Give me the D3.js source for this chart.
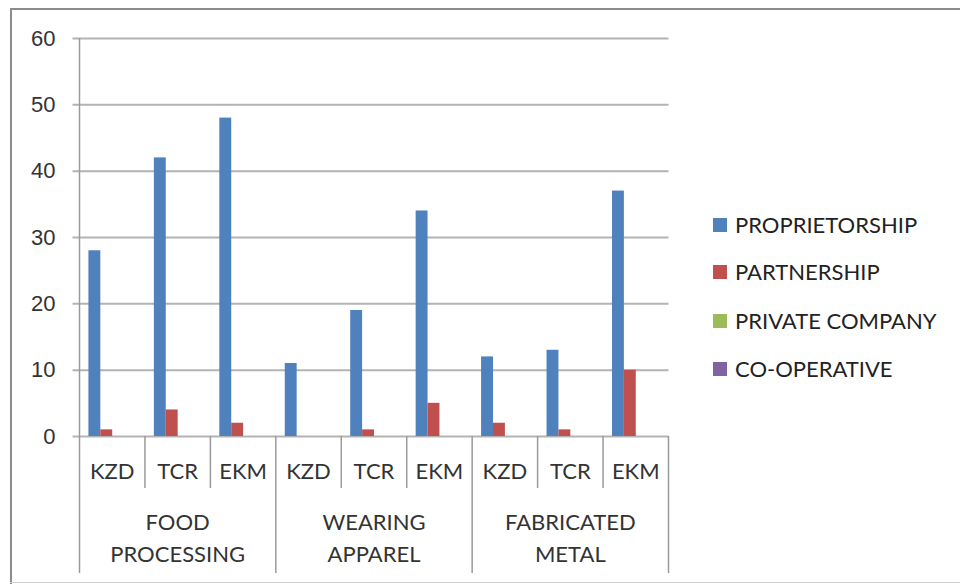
<!DOCTYPE html>
<html>
<head>
<meta charset="utf-8">
<script src="https://cdn.jsdelivr.net/npm/d3@7"></script>
<style>
  html, body { margin: 0; padding: 0; background: #fff; }
  svg { display: block; font-family: Lato, "Open Sans", sans-serif; }
</style>
</head>
<body>
<svg id="chart" width="960" height="584"></svg>
<script>
// Sectors, districts and ownership types
const groups = ["FOOD PROCESSING", "WEARING APPAREL", "FABRICATED METAL"];
const groupLines = [["FOOD", "PROCESSING"], ["WEARING", "APPAREL"], ["FABRICATED", "METAL"]];
const districts = ["KZD", "TCR", "EKM"];
const seriesNames = ["PROPRIETORSHIP", "PARTNERSHIP", "PRIVATE COMPANY", "CO-OPERATIVE"];
const seriesColors = ["#4f81bd", "#c0504d", "#9bbb59", "#8064a2"];

// Counts per sector/district (9 columns: KZD, TCR, EKM for each sector)
const proprietorship = [28, 42, 48, 11, 19, 34, 12, 13, 37];
const partnership    = [1, 4, 2, 0, 1, 5, 2, 1, 10];
const privateCompany = [0, 0, 0, 0, 0, 0, 0, 0, 0];
const cooperative    = [0, 0, 0, 0, 0, 0, 0, 0, 0];
const yTicks = [0, 10, 20, 30, 40, 50, 60];

const seriesValues = [proprietorship, partnership, privateCompany, cooperative];
const columns = [];
groups.forEach((g, gi) => districts.forEach((d, di) => columns.push({ key: gi + "-" + d, group: gi, district: d })));

const svg = d3.select("#chart");
const W = 960, H = 584;
const FONT = "22px";

// Outer frame
svg.append("line").attr("x1", 11).attr("x2", 11).attr("y1", 9).attr("y2", 584)
  .attr("stroke", "#8c8c8c").attr("stroke-width", 2);
svg.append("line").attr("x1", 10).attr("x2", W).attr("y1", 9).attr("y2", 9)
  .attr("stroke", "#8c8c8c").attr("stroke-width", 2);
svg.append("line").attr("x1", 10).attr("x2", W).attr("y1", 582.5).attr("y2", 582.5)
  .attr("stroke", "#d0d0d0").attr("stroke-width", 1);

const plot = { left: 79.5, right: 668.5, top: 38, bottom: 436 };

const x = d3.scaleBand().domain(columns.map(c => c.key)).range([plot.left, plot.right]).paddingInner(0).paddingOuter(0);
const y = d3.scaleLinear().domain([0, 60]).range([plot.bottom, plot.top]);

// Clustered bars: 4 series, gap equal to 1.5 bar widths
const bw = x.bandwidth() / (seriesNames.length + 1.5);
const xs = d3.scaleBand().domain(seriesNames).range([bw * 0.75, bw * 0.75 + bw * seriesNames.length]).padding(0);

// Gridlines and y axis
const yAxis = d3.axisLeft(y).tickValues(yTicks).tickSize(plot.right - plot.left + 7).tickFormat(d3.format("d"));
const gy = svg.append("g").attr("transform", `translate(${plot.right},0)`).call(yAxis);
gy.select(".domain").remove();
gy.selectAll(".tick line").attr("stroke", "#b3b3b3").attr("stroke-width", 2);
gy.selectAll(".tick text").attr("fill", "#333").style("font-size", FONT)
  .attr("x", -(plot.right - plot.left) - 24);

// Bars
seriesNames.forEach((s, si) => {
  svg.append("g").selectAll("rect").data(seriesValues[si]).join("rect")
    .attr("x", (v, i) => x(columns[i].key) + xs(s))
    .attr("width", xs.bandwidth())
    .attr("y", v => y(v))
    .attr("height", v => y(0) - y(v))
    .attr("fill", seriesColors[si]);
});

// Vertical axis line
svg.append("line").attr("x1", plot.left).attr("x2", plot.left).attr("y1", plot.top).attr("y2", 573)
  .attr("stroke", "#9a9a9a").attr("stroke-width", 1.5);

// Category separators (short for districts, long between sectors)
const sepColor = "#9a9a9a";
columns.forEach((c, i) => {
  const xr = x(c.key) + x.bandwidth();
  const isGroupEnd = (i % 3) === 2;
  svg.append("line").attr("x1", xr).attr("x2", xr).attr("y1", plot.bottom)
    .attr("y2", isGroupEnd ? 573 : 488).attr("stroke", sepColor).attr("stroke-width", 1.5);
});

// District labels
svg.append("g").selectAll("text").data(columns).join("text")
  .attr("x", c => x(c.key) + x.bandwidth() / 2)
  .attr("y", 479)
  .attr("text-anchor", "middle")
  .attr("fill", "#333")
  .style("font-size", FONT)
  .text(c => c.district);

// Sector labels
groups.forEach((g, gi) => {
  const cx = (x(columns[gi * 3].key) + x(columns[gi * 3 + 2].key) + x.bandwidth()) / 2;
  const t = svg.append("text").attr("x", cx).attr("y", 530).attr("text-anchor", "middle")
    .attr("fill", "#333").style("font-size", FONT);
  groupLines[gi].forEach((ln, li) => {
    t.append("tspan").attr("x", cx).attr("dy", li === 0 ? 0 : 32).text(ln);
  });
});

// Legend
const legendY = [225, 272, 321, 369];
const lg = svg.append("g");
seriesNames.forEach((s, si) => {
  lg.append("rect").attr("x", 713).attr("y", legendY[si] - 7).attr("width", 14).attr("height", 14).attr("fill", seriesColors[si]);
  lg.append("text").attr("x", 735).attr("y", legendY[si]).attr("dy", "0.35em")
    .attr("fill", "#222").style("font-size", FONT).text(s);
});
</script>
</body>
</html>
